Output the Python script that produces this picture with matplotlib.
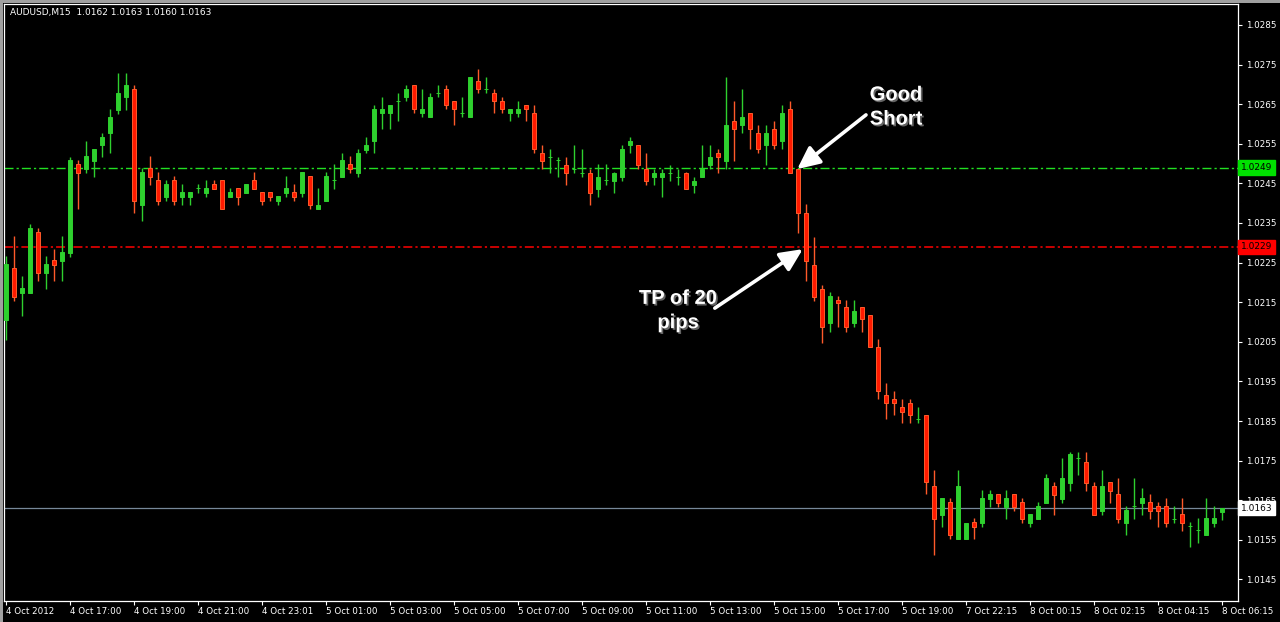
import matplotlib
matplotlib.use('Agg')
import matplotlib.pyplot as plt
import matplotlib.patheffects as pe
from matplotlib.patches import Rectangle
import numpy as np

plt.rcParams['font.family'] = ['DejaVu Sans']
plt.rcParams['lines.scale_dashes'] = False

# ---- data (AUDUSD M15) ----
symbol = 'AUDUSD,M15'

opens = [
    1.02105, 1.02236, 1.02174, 1.02174, 1.02327, 1.02225, 1.02257, 1.02255, 1.02275, 1.02499,
    1.02487, 1.02507, 1.02546, 1.02577, 1.02635, 1.02667, 1.02688, 1.02396, 1.02489, 1.02459,
    1.02416, 1.02459, 1.02416, 1.02416, 1.02438, 1.02427, 1.02448, 1.02459, 1.02416, 1.02438,
    1.02427, 1.02459, 1.02428, 1.02428, 1.02406, 1.02427, 1.02428, 1.02427, 1.02469, 1.02386,
    1.02406, 1.02459, 1.02467, 1.02499, 1.02477, 1.02534, 1.02556, 1.02627, 1.02627, 1.02657,
    1.02667, 1.02698, 1.02627, 1.02617, 1.02678, 1.02688, 1.02657, 1.02627, 1.02617, 1.02708,
    1.02688, 1.02678, 1.02657, 1.02627, 1.02627, 1.02647, 1.02627, 1.02526, 1.02517, 1.02509,
    1.02497, 1.02487, 1.02477, 1.02477, 1.02437, 1.02459, 1.02457, 1.02467, 1.02546, 1.02546,
    1.02487, 1.02467, 1.02467, 1.02477, 1.02467, 1.02477, 1.02447, 1.02467, 1.02497, 1.02526,
    1.02507, 1.02607, 1.02597, 1.02627, 1.02577, 1.02546, 1.02587, 1.02556, 1.02637, 1.02487,
    1.02376, 1.02245, 1.02184, 1.02097, 1.02156, 1.02137, 1.02097, 1.02137, 1.02117, 1.02036,
    1.01915, 1.01905, 1.01885, 1.01895, 1.01854, 1.01864, 1.01686, 1.01613, 1.01646, 1.01553,
    1.01553, 1.01595, 1.01593, 1.01654, 1.01666, 1.01634, 1.01666, 1.01646, 1.01593, 1.01603,
    1.01644, 1.01686, 1.01654, 1.01694, 1.01757, 1.01746, 1.01686, 1.01624, 1.01696, 1.01666,
    1.01593, 1.01636, 1.01644, 1.01646, 1.01636, 1.01636, 1.01603, 1.01615, 1.01585, 1.01575,
    1.01563, 1.01593, 1.01620,
]
highs = [
    1.02267, 1.02317, 1.02216, 1.02347, 1.02337, 1.02267, 1.02285, 1.02317, 1.02517, 1.02509,
    1.02558, 1.02538, 1.02578, 1.02637, 1.02728, 1.02728, 1.02698, 1.02489, 1.02519, 1.02479,
    1.02459, 1.02469, 1.02448, 1.02428, 1.02448, 1.02459, 1.02459, 1.02459, 1.02438, 1.02438,
    1.02448, 1.02479, 1.02428, 1.02428, 1.02418, 1.02469, 1.02448, 1.02479, 1.02469, 1.02438,
    1.02479, 1.02499, 1.02528, 1.02519, 1.02538, 1.02568, 1.02647, 1.02667, 1.02647, 1.02678,
    1.02698, 1.02698, 1.02688, 1.02678, 1.02698, 1.02698, 1.02657, 1.02667, 1.02718, 1.02738,
    1.02718, 1.02688, 1.02667, 1.02637, 1.02657, 1.02647, 1.02647, 1.02546, 1.02536, 1.02517,
    1.02517, 1.02546, 1.02536, 1.02487, 1.02499, 1.02499, 1.02479, 1.02546, 1.02568, 1.02546,
    1.02526, 1.02487, 1.02487, 1.02497, 1.02487, 1.02479, 1.02467, 1.02546, 1.02546, 1.02536,
    1.02718, 1.02657, 1.02688, 1.02627, 1.02597, 1.02597, 1.02607, 1.02647, 1.02657, 1.02487,
    1.02398, 1.02315, 1.02194, 1.02176, 1.02166, 1.02156, 1.02156, 1.02137, 1.02117, 1.02056,
    1.01945, 1.01925, 1.01905, 1.01905, 1.01885, 1.01864, 1.01726, 1.01656, 1.01656, 1.01726,
    1.01593, 1.01605, 1.01676, 1.01676, 1.01666, 1.01676, 1.01666, 1.01656, 1.01615, 1.01646,
    1.01716, 1.01696, 1.01757, 1.01773, 1.01773, 1.01773, 1.01696, 1.01726, 1.01696, 1.01706,
    1.01636, 1.01706, 1.01681, 1.01666, 1.01646, 1.01656, 1.01636, 1.01656, 1.01595, 1.01605,
    1.01656, 1.01636, 1.01630,
]
lows = [
    1.02055, 1.02154, 1.02115, 1.02172, 1.02204, 1.02184, 1.02204, 1.02204, 1.02265, 1.02386,
    1.02477, 1.02467, 1.02517, 1.02526, 1.02625, 1.02635, 1.02376, 1.02356, 1.02447, 1.02396,
    1.02406, 1.02396, 1.02396, 1.02396, 1.02427, 1.02416, 1.02437, 1.02386, 1.02416, 1.02396,
    1.02427, 1.02437, 1.02396, 1.02406, 1.02396, 1.02416, 1.02406, 1.02416, 1.02386, 1.02386,
    1.02406, 1.02437, 1.02467, 1.02477, 1.02467, 1.02528, 1.02526, 1.02587, 1.02587, 1.02607,
    1.02657, 1.02627, 1.02617, 1.02617, 1.02667, 1.02637, 1.02597, 1.02617, 1.02617, 1.02678,
    1.02678, 1.02627, 1.02627, 1.02607, 1.02617, 1.02607, 1.02526, 1.02486, 1.02477, 1.02467,
    1.02447, 1.02477, 1.02467, 1.02396, 1.02416, 1.02447, 1.02427, 1.02457, 1.02526, 1.02487,
    1.02447, 1.02447, 1.02416, 1.02457, 1.02447, 1.02437, 1.02427, 1.02467, 1.02487, 1.02477,
    1.02487, 1.02507, 1.02577, 1.02536, 1.02526, 1.02497, 1.02536, 1.02536, 1.02477, 1.02326,
    1.02204, 1.02154, 1.02046, 1.02076, 1.02087, 1.02076, 1.02087, 1.02076, 1.02036, 1.01905,
    1.01854, 1.01864, 1.01844, 1.01844, 1.01844, 1.01666, 1.01512, 1.01583, 1.01553, 1.01553,
    1.01553, 1.01553, 1.01583, 1.01634, 1.01634, 1.01603, 1.01624, 1.01593, 1.01583, 1.01603,
    1.01644, 1.01613, 1.01644, 1.01674, 1.01714, 1.01674, 1.01613, 1.01613, 1.01644, 1.01593,
    1.01563, 1.01603, 1.01613, 1.01603, 1.01583, 1.01583, 1.01593, 1.01573, 1.01533, 1.01543,
    1.01563, 1.01583, 1.01600,
]
closes = [
    1.02246, 1.02164, 1.02186, 1.02337, 1.02225, 1.02246, 1.02245, 1.02277, 1.02509, 1.02477,
    1.02519, 1.02538, 1.02568, 1.02617, 1.02678, 1.02698, 1.02406, 1.02479, 1.02467, 1.02406,
    1.02448, 1.02406, 1.02428, 1.02428, 1.02438, 1.02438, 1.02437, 1.02386, 1.02428, 1.02416,
    1.02448, 1.02437, 1.02406, 1.02416, 1.02418, 1.02438, 1.02416, 1.02479, 1.02396, 1.02396,
    1.02469, 1.02459, 1.02509, 1.02487, 1.02528, 1.02548, 1.02637, 1.02637, 1.02647, 1.02657,
    1.02688, 1.02637, 1.02637, 1.02667, 1.02678, 1.02647, 1.02637, 1.02627, 1.02718, 1.02688,
    1.02688, 1.02657, 1.02637, 1.02637, 1.02637, 1.02637, 1.02536, 1.02507, 1.02517, 1.02509,
    1.02477, 1.02487, 1.02477, 1.02427, 1.02467, 1.02459, 1.02477, 1.02536, 1.02558, 1.02497,
    1.02457, 1.02477, 1.02477, 1.02477, 1.02467, 1.02437, 1.02457, 1.02487, 1.02517, 1.02517,
    1.02597, 1.02587, 1.02617, 1.02587, 1.02536, 1.02577, 1.02546, 1.02627, 1.02477, 1.02376,
    1.02255, 1.02164, 1.02087, 1.02166, 1.02147, 1.02087, 1.02127, 1.02107, 1.02036, 1.01925,
    1.01895, 1.01895, 1.01874, 1.01864, 1.01854, 1.01696, 1.01603, 1.01656, 1.01563, 1.01686,
    1.01593, 1.01583, 1.01656, 1.01666, 1.01644, 1.01656, 1.01634, 1.01603, 1.01615, 1.01636,
    1.01706, 1.01664, 1.01706, 1.01767, 1.01757, 1.01694, 1.01613, 1.01686, 1.01674, 1.01603,
    1.01625, 1.01636, 1.01656, 1.01624, 1.01624, 1.01593, 1.01603, 1.01593, 1.01585, 1.01575,
    1.01605, 1.01605, 1.01630,
]

time_labels = [
    '4 Oct 2012', '4 Oct 17:00', '4 Oct 19:00', '4 Oct 21:00', '4 Oct 23:01',
    '5 Oct 01:00', '5 Oct 03:00', '5 Oct 05:00', '5 Oct 07:00', '5 Oct 09:00',
    '5 Oct 11:00', '5 Oct 13:00', '5 Oct 15:00', '5 Oct 17:00', '5 Oct 19:00',
    '7 Oct 22:15', '8 Oct 00:15', '8 Oct 02:15', '8 Oct 04:15', '8 Oct 06:15',
]
label_step = 8  # one label every 8 bars (2 hours)

price_ticks = [1.0145, 1.0155, 1.0165, 1.0175, 1.0185, 1.0195, 1.0205, 1.0215,
               1.0225, 1.0235, 1.0245, 1.0255, 1.0265, 1.0275, 1.0285]

entry_level = 1.0249   # green line (short entry)
tp_level = 1.0229      # red line (take profit)
bid_level = 1.0163     # current bid

# ---- colours ----
BULL = '#2ed02e'
BEAR_FILL = '#ff1a00'
BEAR_EDGE = '#ff5a2a'
BG = 'black'

W, H = 1280, 622
fig = plt.figure(figsize=(W / 100, H / 100), dpi=100, facecolor=BG)
ax = fig.add_axes([4 / W, 21 / H, 1234 / W, 597 / H], facecolor=BG)

o = np.array(opens)
h = np.array(highs)
l = np.array(lows)
c = np.array(closes)
x = np.arange(len(o))
up = c >= o
body_lo = np.minimum(o, c)
body_h = np.maximum(np.abs(c - o), 1e-7)

# wicks
ax.vlines(x[up], l[up], h[up], color=BULL, lw=1, zorder=3)
ax.vlines(x[~up], l[~up], h[~up], color=BEAR_EDGE, lw=1, zorder=3)
# bodies
ax.bar(x[up], body_h[up], bottom=body_lo[up], width=0.55,
       color=BULL, edgecolor=BULL, lw=0.7, zorder=4)
ax.bar(x[~up], body_h[~up], bottom=body_lo[~up], width=0.55,
       color=BEAR_FILL, edgecolor=BEAR_EDGE, lw=0.7, zorder=4)

# level lines
dashdot = (0, (6.5, 2.2, 1.6, 2.2))
ax.axhline(entry_level, color='#22e022', lw=1.0, ls=dashdot, zorder=2)
ax.axhline(tp_level, color='#ff0000', lw=1.1, ls=dashdot, zorder=2)
ax.axhline(bid_level, color='#778899', lw=0.9, zorder=2)

ax.set_xlim(-0.25, 154)
ax.set_ylim(1.013955, 1.02903)

# axes styling
for sp in ax.spines.values():
    sp.set_color('white')
    sp.set_linewidth(0.9)

ax.yaxis.tick_right()
ax.set_yticks(price_ticks)
ax.set_yticklabels([f'{v:.4f}' for v in price_ticks])
ax.set_xticks(np.arange(0, len(o), label_step))
ax.set_xticklabels(time_labels, ha='left')
ax.tick_params(axis='both', colors='white', labelcolor='white', direction='out',
               length=3, width=0.8, labelsize=6.3, pad=1.5)
ax.tick_params(axis='y', pad=2.5)

# price labels on the right axis
ylab = ax.get_yaxis_transform()
for lvl, col in [(entry_level, '#00e000'), (tp_level, '#ff0000'), (bid_level, 'white')]:
    ax.text(1.0025, lvl, f'{lvl:.4f}', transform=ylab, color='black', fontsize=6.5,
            va='center', ha='left', clip_on=False, zorder=10,
            bbox=dict(boxstyle='square,pad=0.3', fc=col, ec=col))

# header
ax.text(6 / 1234, 1 - 9 / 597, f'{symbol}  {opens[-1]:.4f} {highs[-1]:.4f} {lows[-1]:.4f} {closes[-1]:.4f}',
        transform=ax.transAxes, color='white', fontsize=6.5, va='center', ha='left')

# annotations
shadow = [pe.withSimplePatchShadow(offset=(1.2, -1.2), shadow_rgbFace='#707070', alpha=0.9)]
ann_font = dict(family=['Liberation Sans', 'DejaVu Sans'], weight='bold', size=14.5, color='white')
ax.text(111.25, 1.02643, 'Good\nShort', ha='center', va='center', linespacing=1.35,
        path_effects=shadow, zorder=11, **ann_font)
ax.text(84.0, 1.02129, 'TP of 20\npips', ha='center', va='center', linespacing=1.35,
        path_effects=shadow, zorder=11, **ann_font)

arrow = dict(arrowstyle='-|>,head_length=0.85,head_width=0.4', color='white', lw=2.6,
             shrinkA=0, shrinkB=0, mutation_scale=16)
ax.annotate('', xy=(98.9, 1.02486), xytext=(107.5, 1.02623), arrowprops=arrow, zorder=11)
ax.annotate('', xy=(99.6, 1.02284), xytext=(88.6, 1.02135), arrowprops=arrow, zorder=11)

# window frame
fig.patches.append(Rectangle((0, 0), 3 / W, 1, transform=fig.transFigure, fc='#a0a0a0', ec='none'))
fig.patches.append(Rectangle((0, 1 - 3 / H), 1, 3 / H, transform=fig.transFigure, fc='#a0a0a0', ec='none'))

fig.savefig('out.png', dpi=100, facecolor=BG)
